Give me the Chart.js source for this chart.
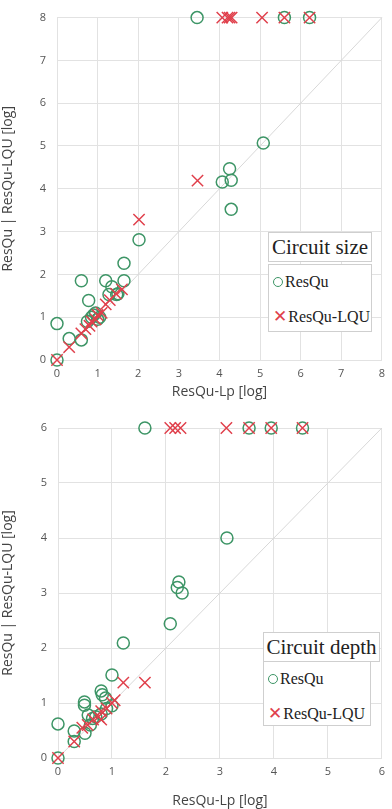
<!DOCTYPE html>
<html>
<head>
<meta charset="utf-8">
<script src="https://cdn.jsdelivr.net/npm/chart.js@4/dist/chart.umd.min.js"></script>
<style>
    body { margin: 0; background: #fff; width: 392px; height: 809px; overflow: hidden; }
    .panel { position: absolute; left: 0; width: 392px; }
    .legend-title, .legend-items {
        position: absolute;
        background: #fff;
        border: 1px solid #cfcfcf;
        font-family: "Liberation Serif", "DejaVu Serif", serif;
        color: #222;
        box-sizing: border-box;
    }
    .legend-title { font-size: 21px; text-align: center; line-height: 28px; }
    .legend-items { font-size: 16px; padding: 6px 0 0 4px; }
    .legend-items div { height: 34px; line-height: 22px; }
    .mk-circle { display: inline-block; width: 8px; height: 8px; border: 1.5px solid #3d9566; border-radius: 50%; margin-right: 2px; vertical-align: 0px; }
    .mk-cross { display: inline-block; color: #e0404c; font-family: "DejaVu Sans", sans-serif; font-size: 17px; margin-right: 1px; }
</style>
</head>
<body>
<div class="panel" style="top:0; height:400px;"><canvas id="sizeChart"></canvas></div>
<div class="panel" style="top:400px; height:409px;"><canvas id="depthChart"></canvas></div>

<div class="legend-title" style="left:268px; top:232px; width:104px; height:30px;">Circuit size</div>
<div class="legend-items" style="left:268px; top:264px; width:104px; height:68px;">
    <div><span class="mk-circle"></span>ResQu</div>
    <div><span class="mk-cross">&#x2715;</span>ResQu-LQU</div>
</div>

<div class="legend-title" style="left:263px; top:632px; width:117px; height:30px;">Circuit depth</div>
<div class="legend-items" style="left:263px; top:661px; width:108px; height:65px;">
    <div><span class="mk-circle"></span>ResQu</div>
    <div><span class="mk-cross">&#x2715;</span>ResQu-LQU</div>
</div>

<script>
// Circuit size (log scale), x = ResQu-Lp, y = ResQu / ResQu-LQU
const sizeResQuX = [0, 0, 0.3, 0.6, 0.6, 0.78, 0.75, 0.85, 0.9, 0.95, 1.0, 1.05, 1.2, 1.28, 1.35, 1.47, 1.5, 1.65, 1.65, 2.02, 4.07, 4.25, 4.29, 4.29, 5.08, 3.45, 5.6, 6.22];
const sizeResQuY = [0, 0.85, 0.5, 0.47, 1.85, 1.39, 0.9, 1.0, 1.05, 1.1, 0.95, 1.0, 1.85, 1.53, 1.71, 1.53, 1.55, 1.85, 2.26, 2.81, 4.16, 4.47, 4.2, 3.52, 5.07, 8, 8, 8];
const sizeLquX = [0, 0.3, 0.6, 0.7, 0.8, 0.85, 0.95, 1.0, 1.1, 1.2, 1.3, 1.45, 1.6, 2.02, 3.46, 4.07, 4.2, 4.25, 4.3, 5.05, 5.6, 6.22];
const sizeLquY = [0, 0.3, 0.62, 0.72, 0.8, 0.9, 0.95, 1.05, 1.1, 1.3, 1.4, 1.55, 1.65, 3.28, 4.19, 8, 8, 8, 8, 8, 8, 8];

// Circuit depth (log scale)
const depthResQuX = [0, 0, 0.3, 0.3, 0.49, 0.49, 0.5, 0.56, 0.6, 0.64, 0.7, 0.8, 0.82, 0.88, 0.8, 0.9, 1.0, 1.0, 1.21, 2.08, 2.21, 2.24, 2.3, 3.13, 1.61, 3.54, 3.95, 4.53];
const depthResQuY = [0, 0.62, 0.49, 0.3, 1.02, 0.96, 0.45, 0.78, 0.6, 0.72, 0.75, 1.22, 1.15, 1.09, 0.8, 0.9, 0.95, 1.51, 2.09, 2.44, 3.1, 3.2, 3.0, 4.0, 6, 6, 6, 6];
const depthLquX = [0, 0.3, 0.45, 0.55, 0.65, 0.75, 0.8, 0.8, 0.9, 1.0, 1.05, 1.21, 1.61, 2.08, 2.17, 2.27, 3.12, 3.54, 3.95, 4.53];
const depthLquY = [0, 0.3, 0.55, 0.6, 0.7, 0.75, 0.85, 0.7, 0.9, 1.0, 1.05, 1.37, 1.37, 6, 6, 6, 6, 6, 6, 6];

const sizeTicks = [0, 1, 2, 3, 4, 5, 6, 7, 8];
const depthTicks = [0, 1, 2, 3, 4, 5, 6];

const green = '#3d9566';
const red = '#e0404c';
const gridColor = '#e2e2e2';

function toPoints(xs, ys) {
    return xs.map((x, i) => ({ x: x, y: ys[i] }));
}

function makeChart(id, resX, resY, lqX, lqY, ticks, layout) {
    const max = ticks[ticks.length - 1];
    const tickFont = { family: 'Open Sans', size: 11 };
    return new Chart(document.getElementById(id), {
        type: 'scatter',
        data: {
            datasets: [
                {
                    label: 'ResQu-LQU',
                    data: toPoints(lqX, lqY),
                    pointStyle: 'crossRot',
                    pointRadius: 8,
                    borderColor: red,
                    borderWidth: 1.5,
                    backgroundColor: red,
                    order: 0
                },
                {
                    label: 'ResQu',
                    data: toPoints(resX, resY),
                    pointStyle: 'circle',
                    pointRadius: 6,
                    borderColor: green,
                    borderWidth: 1.5,
                    backgroundColor: 'rgba(0,0,0,0)',
                    order: 1
                },
                {
                    type: 'line',
                    label: 'diag',
                    data: [{ x: 0, y: 0 }, { x: max, y: max }],
                    borderColor: '#d8d8d8',
                    borderWidth: 1,
                    pointRadius: 0,
                    order: 2
                }
            ]
        },
        options: {
            responsive: true,
            maintainAspectRatio: false,
            animation: false,
            clip: false,
            layout: { padding: { top: layout.top, right: 3, left: 0, bottom: 0 } },
            plugins: {
                legend: { display: false },
                tooltip: { enabled: false }
            },
            scales: {
                x: {
                    type: 'linear',
                    min: 0,
                    max: max,
                    afterBuildTicks: s => { s.ticks = ticks.map(v => ({ value: v })); },
                    afterFit: s => { s.height = layout.xHeight; },
                    grid: { color: gridColor, drawTicks: false },
                    border: { color: gridColor },
                    ticks: { color: '#555', font: tickFont, padding: 7 },
                    title: {
                        display: true,
                        text: 'ResQu-Lp [log]',
                        color: '#444',
                        font: { family: 'Open Sans', size: 14 },
                        padding: { top: 0, bottom: 0 }
                    }
                },
                y: {
                    type: 'linear',
                    min: 0,
                    max: max,
                    afterBuildTicks: s => { s.ticks = ticks.map(v => ({ value: v })); },
                    afterFit: s => { s.width = layout.left; },
                    grid: { color: gridColor, drawTicks: false },
                    border: { color: gridColor },
                    ticks: { color: '#555', font: tickFont, padding: 11 },
                    title: {
                        display: true,
                        text: 'ResQu | ResQu-LQU [log]',
                        color: '#444',
                        font: { family: 'Open Sans', size: 14 },
                        padding: { top: 0, bottom: 8 }
                    }
                }
            }
        }
    });
}

makeChart('sizeChart', sizeResQuX, sizeResQuY, sizeLquX, sizeLquY, sizeTicks,
    { top: 10, left: 57, xHeight: 40 });
makeChart('depthChart', depthResQuX, depthResQuY, depthLquX, depthLquY, depthTicks,
    { top: 28, left: 58, xHeight: 51 });
</script>
</body>
</html>
